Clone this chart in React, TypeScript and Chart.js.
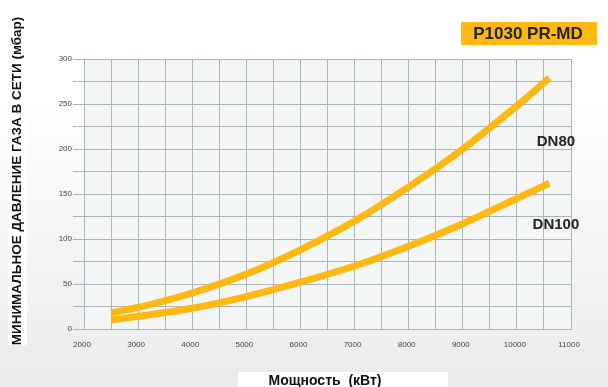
import React, { useEffect, useRef } from "react";
import { Chart, registerables } from "chart.js";

Chart.register(...registerables);

const powerKW = [2500, 3000, 4000, 5000, 6000, 7000, 8000, 9000, 10000, 10600];
const dn80 = [18, 24, 40, 61, 88, 120, 158, 200, 248, 279];
const dn100 = [10, 14, 23, 36, 52, 70, 92, 117, 145, 162];
const seriesNames = ["DN80", "DN100"];
const chartTitle = "P1030 PR-MD";
const yTitle = "МИНИМАЛЬНОЕ ДАВЛЕНИЕ ГАЗА В СЕТИ (мбар)";
const xTitle = "Мощность  (кВт)";

const YELLOW = "#fdb813";
const GRID = "#a9b4bb";
const FONT = "'Liberation Sans', Arial, sans-serif";

const decor = {
  id: "decor",
  beforeDraw(chart: any) {
    const { ctx, chartArea } = chart;
    ctx.save();
    const g = ctx.createLinearGradient(0, 0, 0, chart.height);
    g.addColorStop(0, "#ffffff");
    g.addColorStop(0.25, "#ffffff");
    g.addColorStop(1, "#e9eaec");
    ctx.fillStyle = g;
    ctx.fillRect(0, 0, chart.width, chart.height);
    ctx.fillStyle = "#f4f6f6";
    ctx.fillRect(chartArea.left, chartArea.top, chartArea.right - chartArea.left, chartArea.bottom - chartArea.top);
    ctx.restore();
  },
  afterDraw(chart: any) {
    const { ctx, scales } = chart;
    ctx.save();
    // title box
    ctx.fillStyle = YELLOW;
    ctx.fillRect(461, 22, 136, 23);
    ctx.fillStyle = "#222";
    ctx.font = `bold 17px ${FONT}`;
    ctx.textAlign = "center";
    ctx.textBaseline = "middle";
    ctx.fillText(chartTitle, 528, 34);

    // y title
    ctx.fillStyle = "#ffffff";
    ctx.fillRect(8, 17, 19, 328);
    ctx.save();
    ctx.translate(17, 181);
    ctx.rotate(-Math.PI / 2);
    ctx.fillStyle = "#111";
    ctx.font = `bold 13.5px ${FONT}`;
    ctx.fillText(yTitle, 0, 0);
    ctx.restore();

    // x title
    ctx.fillStyle = "#ffffff";
    ctx.fillRect(238, 372, 210, 15);
    ctx.fillStyle = "#111";
    ctx.font = `bold 14px ${FONT}`;
    ctx.fillText(xTitle, 325, 381);

    // series labels
    ctx.font = `bold 15px ${FONT}`;
    ctx.fillStyle = "#222";
    const x = scales.x;
    const y = scales.y;
    ctx.fillText(seriesNames[0], x.getPixelForValue(10000) + 39, y.getPixelForValue(208));
    ctx.fillText(seriesNames[1], x.getPixelForValue(10000) + 39, y.getPixelForValue(116));
    ctx.restore();
  },
};

export default function App() {
  const ref = useRef<HTMLCanvasElement>(null);
  useEffect(() => {
    document.body.style.margin = "0";
    const chart = new Chart(ref.current!, {
      type: "line",
      data: {
        datasets: [
          {
            label: seriesNames[0],
            data: powerKW.map((p, i) => ({ x: p, y: dn80[i] })),
            borderColor: YELLOW,
            borderWidth: 7,
            pointRadius: 0,
            cubicInterpolationMode: "monotone",
            borderCapStyle: "butt",
          },
          {
            label: seriesNames[1],
            data: powerKW.map((p, i) => ({ x: p, y: dn100[i] })),
            borderColor: YELLOW,
            borderWidth: 7,
            pointRadius: 0,
            cubicInterpolationMode: "monotone",
            borderCapStyle: "butt",
          },
        ],
      },
      options: {
        animation: false,
        responsive: false,
        layout: { padding: { left: 0, right: 37, top: 59, bottom: 0 } },
        plugins: { legend: { display: false }, tooltip: { enabled: false } },
        scales: {
          x: {
            type: "linear",
            min: 2000,
            max: 11000,
            afterFit: (s: any) => { s.height = 58; },
            grid: { color: GRID, drawTicks: false, lineWidth: 1 },
            border: { color: GRID },
            ticks: {
              stepSize: 500,
              autoSkip: false,
              maxRotation: 0,
              padding: 11,
              labelOffset: -2,
              color: "#444",
              font: { family: FONT, size: 8 },
              callback: (v: any) => (v % 1000 === 0 ? String(v) : ""),
            },
          },
          y: {
            min: 0,
            max: 300,
            afterFit: (s: any) => { s.width = 84; },
            grid: { color: GRID, drawTicks: true, tickLength: 11, lineWidth: 1 },
            border: { color: GRID },
            ticks: {
              stepSize: 25,
              autoSkip: false,
              padding: 1,
              color: "#444",
              font: { family: FONT, size: 8 },
              callback: (v: any) => (v % 50 === 0 ? String(v) : ""),
            },
          },
        },
      },
      plugins: [decor],
    } as any);
    return () => chart.destroy();
  }, []);
  return (
    <div style={{ width: 608, height: 387 }}>
      <canvas ref={ref} width={608} height={387} style={{ display: "block" }} />
    </div>
  );
}
